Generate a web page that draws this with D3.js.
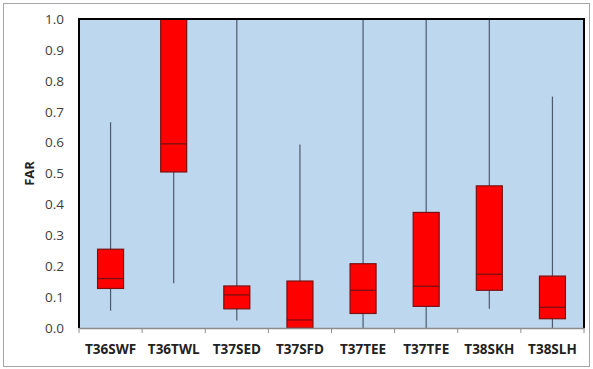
<!DOCTYPE html>
<html><head><meta charset="utf-8">
<script src="https://cdn.jsdelivr.net/npm/d3@7"></script>
<style>body{margin:0;background:#fff}</style>
</head><body>
<svg id="c" width="593" height="369"></svg>
<script>
const categories = ["T36SWF","T36TWL","T37SED","T37SFD","T37TEE","T37TFE","T38SKH","T38SLH"];
const whiskerMin = [0.056, 0.145, 0.024, 0.0, 0.0, 0.0, 0.062, 0.0];
const q1 =        [0.128, 0.505, 0.062, 0.0, 0.047, 0.070, 0.122, 0.030];
const median =    [0.160, 0.596, 0.107, 0.026, 0.122, 0.135, 0.174, 0.067];
const q3 =        [0.255, 1.0, 0.136, 0.152, 0.208, 0.374, 0.460, 0.168];
const whiskerMax = [0.666, 1.0, 1.0, 0.594, 1.0, 1.0, 1.0, 0.749];
const yTicks = [0,0.1,0.2,0.3,0.4,0.5,0.6,0.7,0.8,0.9,1.0];

const svg = d3.select("#c");
const L=79, R=584, T=19, B=328;
svg.append("rect").attr("x",3.5).attr("y",3.5).attr("width",586).attr("height",363)
  .attr("fill","#fff").attr("stroke","#a6a6a6").attr("stroke-width",1);

const x = d3.scaleBand().domain(categories).range([L,R]);
const y = d3.scaleLinear().domain([0,1]).range([B,T]);

svg.append("rect").attr("x",L).attr("y",T).attr("width",R-L).attr("height",B-T).attr("fill","#bdd7ee");

const data = categories.map((c,i)=>({c,lo:whiskerMin[i],q1:q1[i],m:median[i],q3:q3[i],hi:whiskerMax[i]}));
const bw = 26;
const g = svg.append("g");
g.selectAll(".w").data(data).join("line")
  .attr("x1",d=>x(d.c)+x.bandwidth()/2).attr("x2",d=>x(d.c)+x.bandwidth()/2)
  .attr("y1",d=>y(d.lo)).attr("y2",d=>y(d.hi))
  .attr("stroke","#4d5a6e").attr("stroke-width",1.2);
g.selectAll(".b").data(data).join("rect")
  .attr("x",d=>x(d.c)+x.bandwidth()/2-bw/2).attr("width",bw)
  .attr("y",d=>y(d.q3)).attr("height",d=>y(d.q1)-y(d.q3))
  .attr("fill","#ff0000").attr("stroke","#7a1010").attr("stroke-width",1.2);
g.selectAll(".m").data(data).join("line")
  .attr("x1",d=>x(d.c)+x.bandwidth()/2-bw/2).attr("x2",d=>x(d.c)+x.bandwidth()/2+bw/2)
  .attr("y1",d=>y(d.m)).attr("y2",d=>y(d.m))
  .attr("stroke","#7a1010").attr("stroke-width",1.3);

// frame
svg.append("path").attr("d",`M${L},${B}V${T}H${R}V${B}`).attr("fill","none").attr("stroke","#000").attr("stroke-width",2);

// y axis
const ya = svg.append("g").attr("transform",`translate(${L},0)`)
  .call(d3.axisLeft(y).tickValues(yTicks).tickFormat(d3.format(".1f")).tickSize(0).tickPadding(15));
ya.select(".domain").remove();
ya.selectAll("text").attr("font-family","Open Sans, sans-serif").attr("font-size",13.5).attr("fill","#404040");

// x axis
const xa = svg.append("g").attr("transform",`translate(0,${B})`)
  .call(d3.axisBottom(x).tickSize(0).tickPadding(16));
xa.select(".domain").attr("stroke","#8c8c8c").attr("stroke-width",1.5);
xa.selectAll("text").attr("font-family","Open Sans, sans-serif").attr("font-size",13.5).attr("font-weight","bold").attr("fill","#222");
const bounds = categories.map(c=>x(c)).concat([R]);
svg.append("g").selectAll("line").data(bounds).join("line")
  .attr("x1",d=>d).attr("x2",d=>d).attr("y1",B).attr("y2",B+5)
  .attr("stroke","#8c8c8c").attr("stroke-width",1);

svg.append("text").attr("transform",`translate(34,${(T+B)/2}) rotate(-90)`)
  .attr("text-anchor","middle").attr("font-family","Open Sans, sans-serif")
  .attr("font-size",13).attr("font-weight","bold").attr("fill","#222").text("FAR");
</script>
</body></html>
